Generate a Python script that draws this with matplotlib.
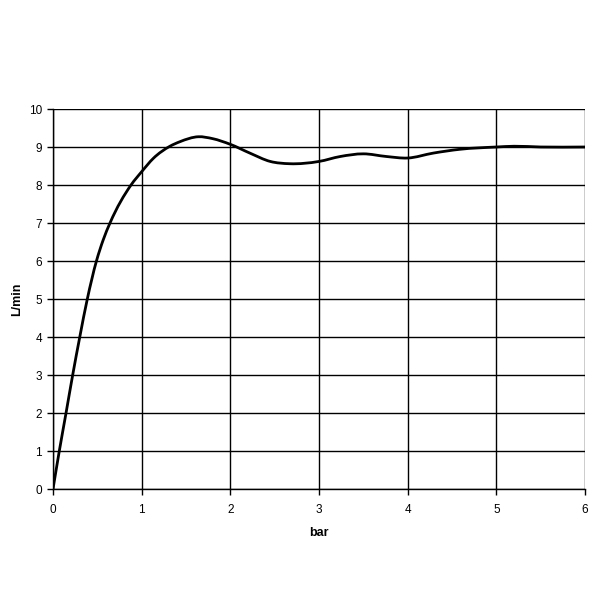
import matplotlib
matplotlib.use("Agg")
import matplotlib.pyplot as plt
from matplotlib.path import Path
from matplotlib.patches import PathPatch
import numpy as np

x_vals = [0.0, 0.071, 0.147, 0.222, 0.302, 0.387, 0.49, 0.567, 0.643, 0.88, 1.0, 1.131,
          1.319, 1.432, 1.64, 1.8, 2.0, 2.22, 2.45, 2.67, 3.0, 3.24, 3.5, 3.76, 4.0, 4.29, 4.59,
          5.0, 5.2, 5.5, 6.0]
y_vals = [0.0, 1.0, 2.0, 3.0, 4.0, 5.0, 6.0, 6.56, 7.0, 8.0, 8.35, 8.7,
          9.02, 9.14, 9.27, 9.22, 9.07, 8.84, 8.62, 8.56, 8.62, 8.75, 8.82, 8.75, 8.71, 8.84, 8.94,
          9.0, 9.02, 9.0, 9.0]
x_ticks = [0, 1, 2, 3, 4, 5, 6]
y_ticks = [0, 1, 2, 3, 4, 5, 6, 7, 8, 9, 10]

plt.rcParams['font.family'] = ['Liberation Sans', 'DejaVu Sans']

fig = plt.figure(figsize=(6, 6), dpi=100)
ax = fig.add_axes([53/600, 1 - 489/600, (585-53)/600, (489-109)/600])

# smooth curve through the data points: cubic Hermite segments drawn as Bezier path
xs = np.asarray(x_vals, float)
ys = np.asarray(y_vals, float)
n = len(xs)
h = np.diff(xs)
d = np.diff(ys) / h
m = np.empty(n)
m[0] = d[0]
m[-1] = d[-1]
for i in range(1, n - 1):
    m[i] = (h[i - 1] * d[i] + h[i] * d[i - 1]) / (h[i - 1] + h[i])
verts = [(xs[0], ys[0])]
codes = [Path.MOVETO]
for i in range(n - 1):
    c1 = (xs[i] + h[i] / 3, ys[i] + m[i] * h[i] / 3)
    c2 = (xs[i + 1] - h[i] / 3, ys[i + 1] - m[i + 1] * h[i] / 3)
    verts += [c1, c2, (xs[i + 1], ys[i + 1])]
    codes += [Path.CURVE4] * 3
ax.add_patch(PathPatch(Path(verts, codes), facecolor='none', edgecolor='black',
                       lw=2.0, capstyle='round', joinstyle='round', zorder=3))

ax.set_xlim(0, 6)
ax.set_ylim(0, 10)
ax.set_xticks(x_ticks)
ax.set_yticks(y_ticks)
ax.grid(True, color='black', lw=1.0)
ax.set_axisbelow(True)
for s in ax.spines.values():
    s.set_color('black')
    s.set_linewidth(1.0)
ax.spines['top'].set_visible(False)
ax.spines['right'].set_visible(False)
ax.tick_params(direction='out', length=4, width=1, labelsize=8.5, colors='black')
ax.tick_params(axis='y', pad=4)
ax.tick_params(axis='x', pad=7)
ax.set_xlabel('bar', fontsize=9, fontweight='bold', labelpad=8)
ax.set_ylabel('L/min', fontsize=9, fontweight='bold', labelpad=4)

fig.savefig('out.png', dpi=100, facecolor='white')
